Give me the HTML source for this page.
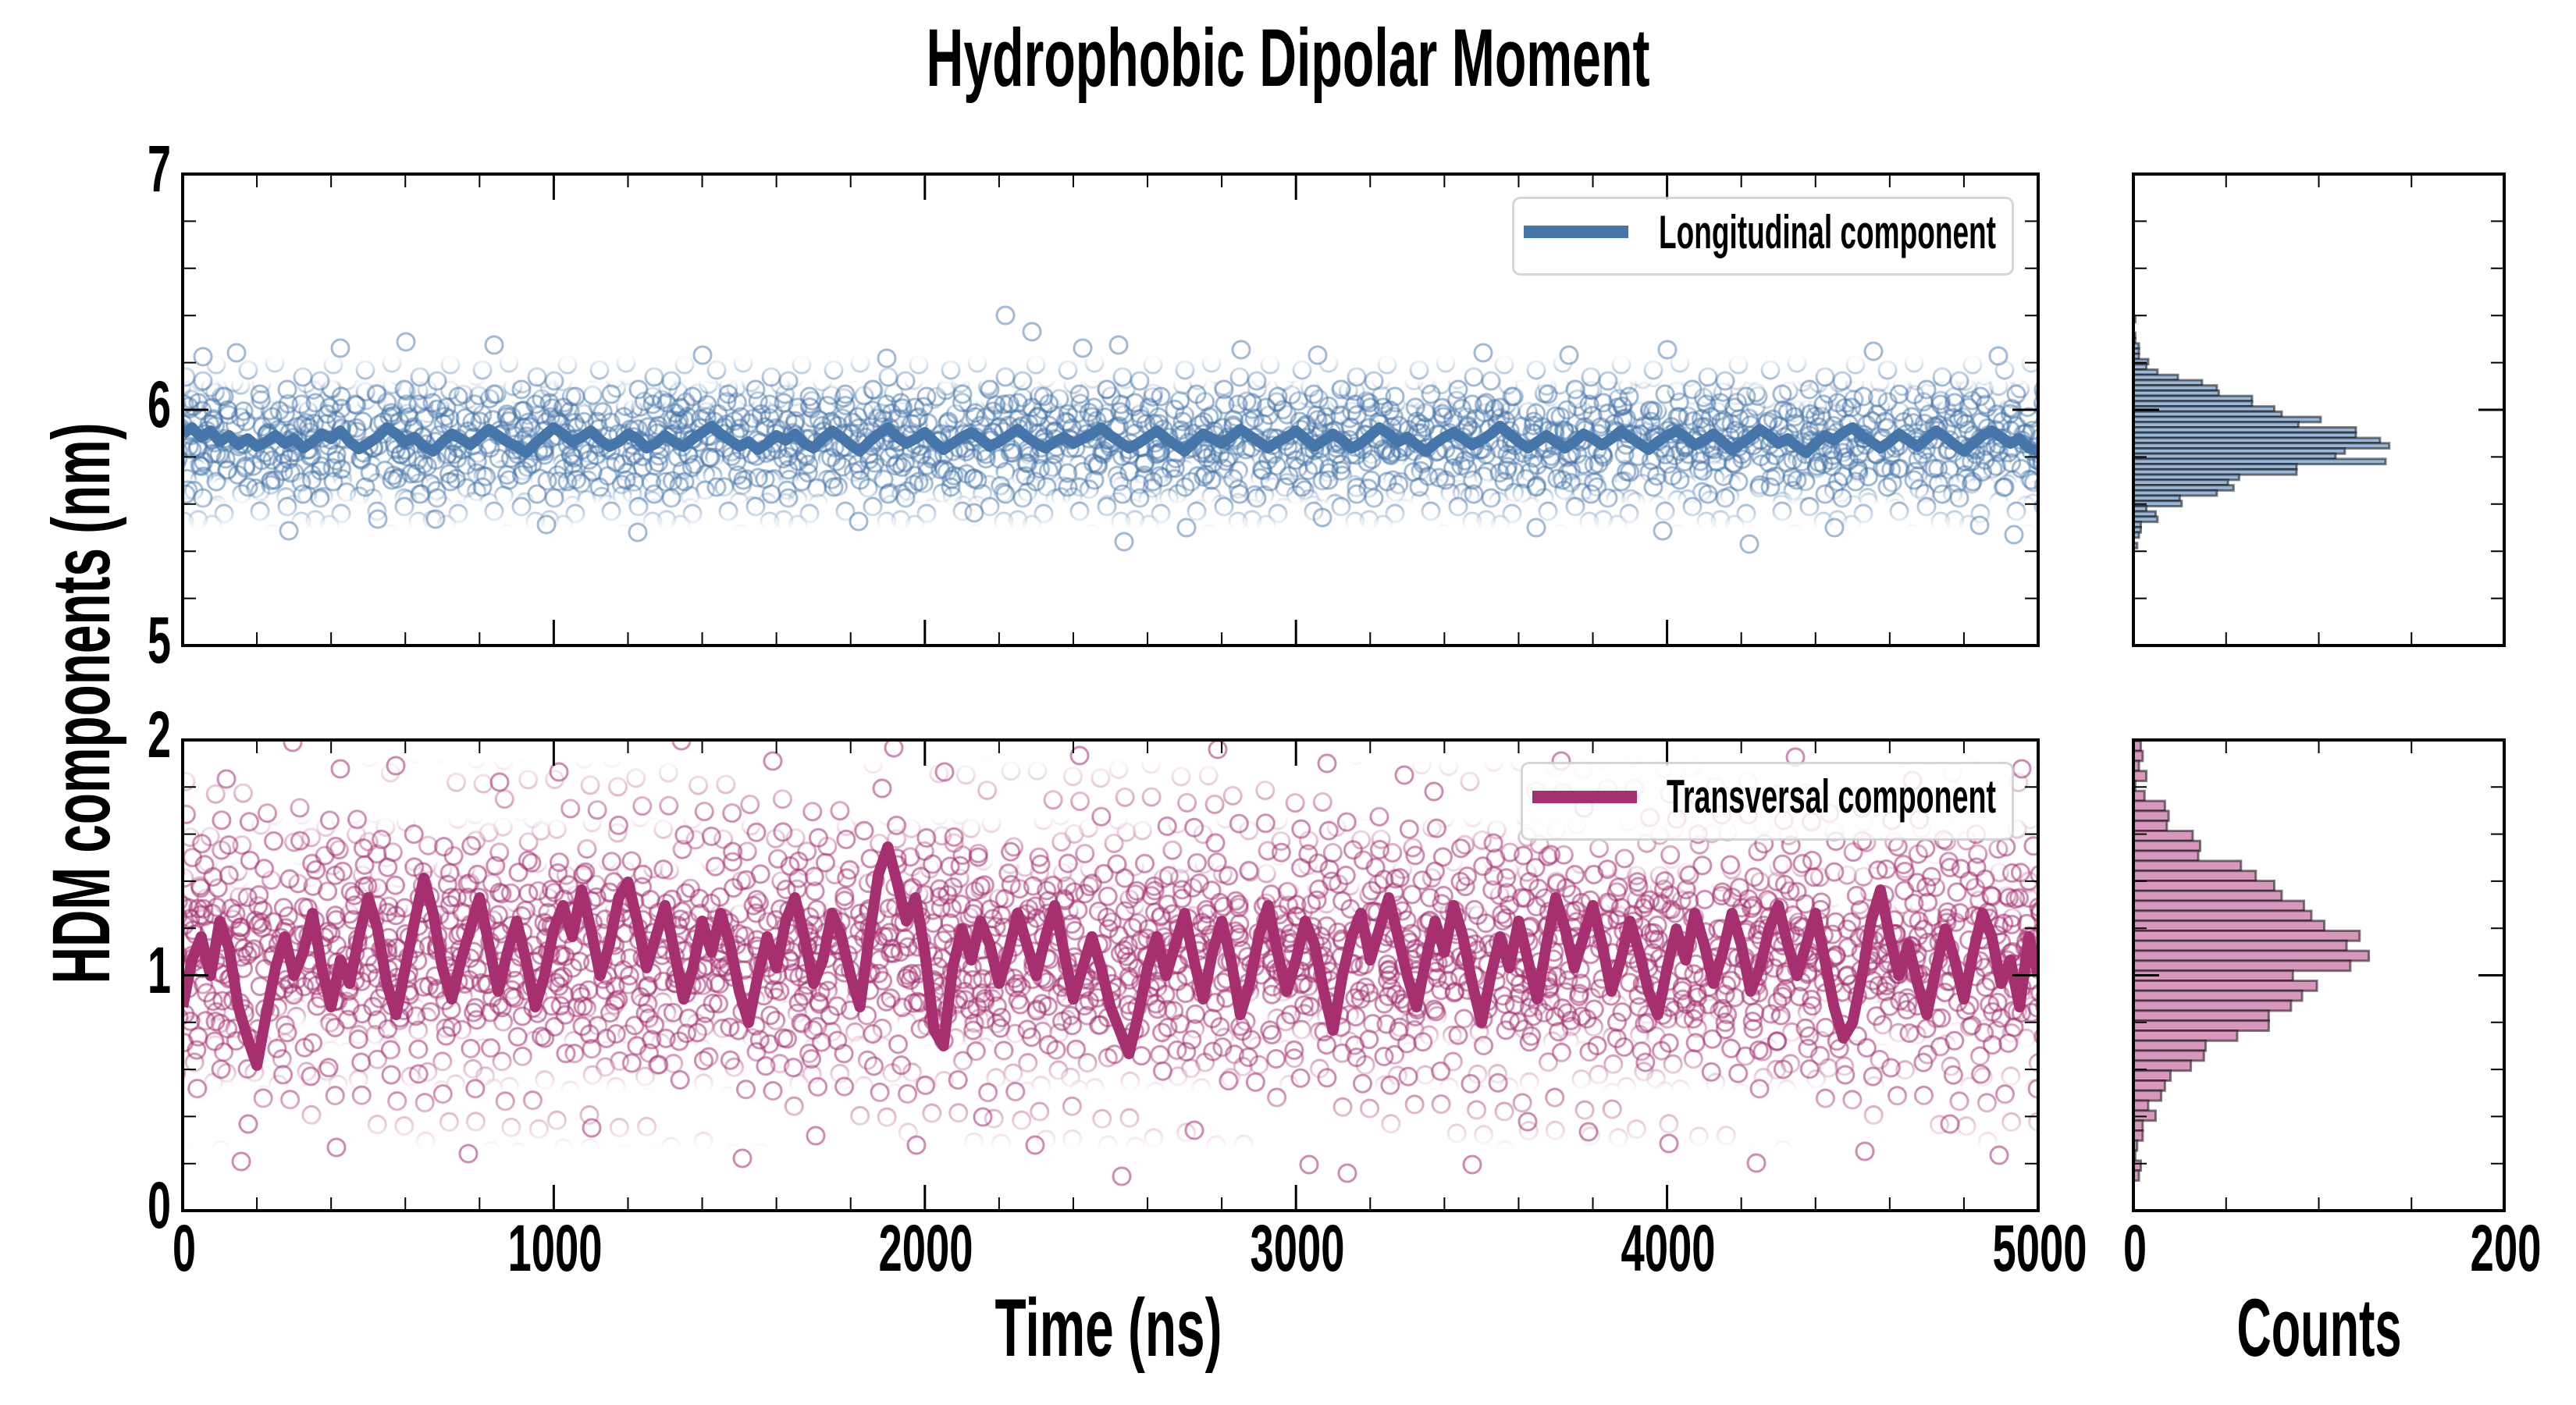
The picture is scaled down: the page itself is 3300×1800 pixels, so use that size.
<!DOCTYPE html>
<html>
<head>
<meta charset="utf-8">
<style>
html,body{margin:0;padding:0;background:#fff;}
svg{display:block;}
</style>
</head>
<body>
<svg width="3300" height="1800" viewBox="0 0 3300 1800" xmlns="http://www.w3.org/2000/svg" font-family="'Liberation Sans', Arial, sans-serif" font-weight="bold">
<defs>
<clipPath id="c1"><rect x="234" y="223" width="2377" height="604"/></clipPath>
<clipPath id="c2"><rect x="234" y="948" width="2377" height="603"/></clipPath>
<clipPath id="c3"><rect x="2733" y="223" width="475" height="604"/></clipPath>
<clipPath id="c4"><rect x="2733" y="948" width="475" height="603"/></clipPath>
<linearGradient id="fade" x1="0" y1="0" x2="0" y2="1">
<stop offset="0" stop-color="#fff" stop-opacity="0"/>
<stop offset="0.15" stop-color="#fff" stop-opacity="1"/>
<stop offset="0.85" stop-color="#fff" stop-opacity="1"/>
<stop offset="1" stop-color="#fff" stop-opacity="0"/>
</linearGradient>
<mask id="m" maskContentUnits="objectBoundingBox"><rect x="0" y="0" width="1" height="1" fill="url(#fade)"/></mask>
<g id="ca"><circle cx="18" cy="24" r="11"/><circle cx="52" cy="15" r="11"/><circle cx="88" cy="33" r="11"/><circle cx="127" cy="17" r="11"/><circle cx="137" cy="58" r="11"/><circle cx="33" cy="55" r="11"/><circle cx="68" cy="49" r="11"/><circle cx="104" cy="66" r="11"/><circle cx="15" cy="90" r="11"/><circle cx="49" cy="84" r="11"/><circle cx="80" cy="97" r="11"/></g>
<g id="cb"><circle cx="118" cy="93" r="11"/><circle cx="28" cy="124" r="11"/><circle cx="63" cy="132" r="11"/><circle cx="96" cy="126" r="11"/><circle cx="131" cy="132" r="11"/><circle cx="110" cy="38" r="11"/><circle cx="42" cy="106" r="11"/><circle cx="86" cy="68" r="11"/><circle cx="137" cy="112" r="11"/><circle cx="70" cy="114" r="11"/><circle cx="122" cy="72" r="11"/></g>
<pattern id="pb0" patternUnits="userSpaceOnUse" width="150" height="150"><g fill="none" stroke="#4676a9" stroke-opacity="0.5" stroke-width="3"><use href="#ca"/><use href="#cb"/></g></pattern>
<pattern id="pb1" patternUnits="userSpaceOnUse" width="150" height="150" patternTransform="rotate(23) translate(40,17)"><g fill="none" stroke="#4676a9" stroke-opacity="0.5" stroke-width="3"><use href="#ca"/><use href="#cb"/></g></pattern>
<pattern id="pb2" patternUnits="userSpaceOnUse" width="150" height="150" patternTransform="rotate(47) translate(11,73)"><g fill="none" stroke="#4676a9" stroke-opacity="0.5" stroke-width="3"><use href="#ca"/><use href="#cb"/></g></pattern>
<pattern id="pb3" patternUnits="userSpaceOnUse" width="150" height="150" patternTransform="rotate(71) translate(90,30)"><g fill="none" stroke="#4676a9" stroke-opacity="0.5" stroke-width="3"><use href="#ca"/><use href="#cb"/></g></pattern>
<pattern id="pb4" patternUnits="userSpaceOnUse" width="150" height="150" patternTransform="rotate(97) translate(25,55)"><g fill="none" stroke="#4676a9" stroke-opacity="0.5" stroke-width="3"><use href="#ca"/><use href="#cb"/></g></pattern>
<pattern id="pb5" patternUnits="userSpaceOnUse" width="150" height="150" patternTransform="rotate(149) translate(7,38)"><g fill="none" stroke="#4676a9" stroke-opacity="0.5" stroke-width="3"><use href="#ca"/><use href="#cb"/></g></pattern>
<pattern id="pps" patternUnits="userSpaceOnUse" width="150" height="150" patternTransform="rotate(13) translate(30,5)"><g fill="none" stroke="#a62f6f" stroke-opacity="0.55" stroke-width="3"><use href="#ca"/></g></pattern>
<pattern id="pp0" patternUnits="userSpaceOnUse" width="150" height="150" patternTransform="rotate(37) translate(22,61)"><g fill="none" stroke="#a62f6f" stroke-opacity="0.55" stroke-width="3"><use href="#ca"/><use href="#cb"/></g></pattern>
<pattern id="pp1" patternUnits="userSpaceOnUse" width="150" height="150" patternTransform="rotate(79) translate(71,9)"><g fill="none" stroke="#a62f6f" stroke-opacity="0.55" stroke-width="3"><use href="#ca"/><use href="#cb"/></g></pattern>
<pattern id="pp2" patternUnits="userSpaceOnUse" width="150" height="150" patternTransform="rotate(131) translate(44,118)"><g fill="none" stroke="#a62f6f" stroke-opacity="0.55" stroke-width="3"><use href="#ca"/><use href="#cb"/></g></pattern>
<pattern id="pp3" patternUnits="userSpaceOnUse" width="150" height="150" patternTransform="rotate(161) translate(97,52)"><g fill="none" stroke="#a62f6f" stroke-opacity="0.55" stroke-width="3"><use href="#cb"/></g></pattern>
</defs>

<rect x="0" y="0" width="3300" height="1800" fill="#fff"/>

<g clip-path="url(#c1)">
<rect x="234" y="455" width="2377" height="222" fill="url(#pb0)" mask="url(#m)"/>
<rect x="234" y="486" width="2377" height="160" fill="url(#pb1)" mask="url(#m)"/>
<rect x="234" y="486" width="2377" height="160" fill="url(#pb2)" mask="url(#m)"/>
<rect x="234" y="512" width="2377" height="108" fill="url(#pb3)" mask="url(#m)"/>
<rect x="234" y="512" width="2377" height="108" fill="url(#pb4)" mask="url(#m)"/>
<rect x="234" y="536" width="2377" height="60" fill="url(#pb5)" mask="url(#m)"/>
<g fill="none" stroke="#4676a9" stroke-opacity="0.5" stroke-width="3">
<circle cx="520" cy="438" r="11"/><circle cx="633" cy="442" r="11"/><circle cx="436" cy="446" r="11"/><circle cx="303" cy="452" r="11"/><circle cx="1288" cy="404" r="11"/><circle cx="1322" cy="425" r="11"/><circle cx="1387" cy="446" r="11"/><circle cx="1433" cy="442" r="11"/><circle cx="2136" cy="448" r="11"/><circle cx="1688" cy="455" r="11"/><circle cx="1136" cy="459" r="11"/><circle cx="484" cy="665" r="11"/><circle cx="558" cy="665" r="11"/><circle cx="817" cy="682" r="11"/><circle cx="1440" cy="694" r="11"/><circle cx="1694" cy="663" r="11"/><circle cx="2130" cy="680" r="11"/><circle cx="2241" cy="697" r="11"/><circle cx="1968" cy="676" r="11"/><circle cx="2536" cy="673" r="11"/><circle cx="1520" cy="676" r="11"/><circle cx="1248" cy="657" r="11"/><circle cx="900" cy="455" r="11"/><circle cx="1900" cy="452" r="11"/><circle cx="2400" cy="450" r="11"/><circle cx="700" cy="672" r="11"/><circle cx="1100" cy="668" r="11"/><circle cx="2350" cy="676" r="11"/><circle cx="2560" cy="456" r="11"/><circle cx="260" cy="457" r="11"/><circle cx="1590" cy="448" r="11"/><circle cx="2010" cy="455" r="11"/><circle cx="2580" cy="685" r="11"/><circle cx="370" cy="680" r="11"/>
</g>
<polyline fill="none" stroke="#4676a9" stroke-width="14" stroke-linejoin="round" vector-effect="non-scaling-stroke" transform="translate(234,0) scale(11.885,1)" points="0,556 1,548 2,560 3,552 4,566 5,558 6,570 7,562 8,572 9,566 10,558 11,568 12,562 13,574 14,566 15,556 16,562 17,552 18,566 19,575 20,568 21,560 22,548 23,556 24,566 25,560 26,572 27,578 28,566 29,556 30,562 31,570 32,560 33,550 34,558 35,566 36,572 37,580 38,568 39,558 40,548 41,556 42,566 43,560 44,552 45,564 46,572 47,566 48,556 49,562 50,574 51,568 52,558 53,566 54,572 55,562 56,554 57,546 58,556 59,564 60,572 61,566 62,576 63,568 64,558 65,564 66,556 67,568 68,574 69,562 70,552 71,560 72,570 73,578 74,566 75,556 76,548 77,560 78,568 79,562 80,554 81,566 82,576 83,568 84,560 85,554 86,562 87,572 88,566 89,558 90,550 91,560 92,568 93,574 94,566 95,560 96,568 97,562 98,556 99,548 100,558 101,566 102,574 103,568 104,560 105,552 106,562 107,570 108,578 109,566 110,556 111,562 112,568 113,560 114,550 115,558 116,566 117,574 118,566 119,560 120,552 121,562 122,572 123,564 124,556 125,564 126,574 127,568 128,558 129,548 130,556 131,566 132,560 133,570 134,578 135,568 136,560 137,554 138,562 139,570 140,564 141,556 142,546 143,556 144,566 145,574 146,566 147,558 148,566 149,574 150,566 151,556 152,562 153,570 154,562 155,552 156,560 157,568 158,576 159,566 160,558 161,552 162,560 163,570 164,564 165,556 166,566 167,576 168,568 169,560 170,550 171,558 172,568 173,562 174,572 175,580 176,568 177,558 178,564 179,554 180,548 181,558 182,566 183,574 184,566 185,556 186,564 187,572 188,562 189,552 190,560 191,570 192,578 193,568 194,558 195,552 196,560 197,568 198,562 199,574 200,578"/>
</g>

<g clip-path="url(#c2)">
<rect x="234" y="972" width="2377" height="500" fill="url(#pps)" mask="url(#m)"/>
<rect x="234" y="1046" width="2377" height="352" fill="url(#pp0)" mask="url(#m)"/>
<rect x="234" y="1102" width="2377" height="240" fill="url(#pp1)" mask="url(#m)"/>
<rect x="234" y="1157" width="2377" height="130" fill="url(#pp2)" mask="url(#m)"/>
<rect x="234" y="1130" width="2377" height="184" fill="url(#pp3)" mask="url(#m)"/>
<g fill="none" stroke="#a62f6f" stroke-opacity="0.55" stroke-width="3">
<circle cx="375" cy="951" r="11"/><circle cx="507" cy="981" r="11"/><circle cx="436" cy="985" r="11"/><circle cx="873" cy="949" r="11"/><circle cx="1145" cy="958" r="11"/><circle cx="1210" cy="989" r="11"/><circle cx="1383" cy="968" r="11"/><circle cx="1799" cy="993" r="11"/><circle cx="1837" cy="1014" r="11"/><circle cx="716" cy="989" r="11"/><circle cx="2000" cy="975" r="11"/><circle cx="2300" cy="970" r="11"/><circle cx="2590" cy="985" r="11"/><circle cx="1560" cy="960" r="11"/><circle cx="990" cy="975" r="11"/><circle cx="290" cy="998" r="11"/><circle cx="1130" cy="1010" r="11"/><circle cx="2450" cy="1000" r="11"/><circle cx="640" cy="1002" r="11"/><circle cx="1700" cy="978" r="11"/>
<circle cx="309" cy="1488" r="11"/><circle cx="318" cy="1440" r="11"/><circle cx="431" cy="1470" r="11"/><circle cx="951" cy="1484" r="11"/><circle cx="1174" cy="1467" r="11"/><circle cx="1326" cy="1467" r="11"/><circle cx="1437" cy="1507" r="11"/><circle cx="1677" cy="1492" r="11"/><circle cx="1726" cy="1503" r="11"/><circle cx="1886" cy="1492" r="11"/><circle cx="2138" cy="1465" r="11"/><circle cx="2389" cy="1475" r="11"/><circle cx="2561" cy="1480" r="11"/><circle cx="1259" cy="1431" r="11"/><circle cx="1957" cy="1437" r="11"/><circle cx="2498" cy="1440" r="11"/><circle cx="758" cy="1445" r="11"/><circle cx="2035" cy="1450" r="11"/><circle cx="600" cy="1478" r="11"/><circle cx="2250" cy="1490" r="11"/><circle cx="1045" cy="1455" r="11"/><circle cx="1530" cy="1448" r="11"/>
</g>
<polyline fill="none" stroke="#a62f6f" stroke-width="14" stroke-linejoin="round" vector-effect="non-scaling-stroke" transform="translate(234,0) scale(11.885,1)" points="0,1290 1,1230 2,1200 3,1250 4,1180 5,1215 6,1290 7,1330 8,1365 9,1300 10,1240 11,1200 12,1250 13,1220 14,1170 15,1240 16,1290 17,1230 18,1260 19,1200 20,1150 21,1190 22,1260 23,1300 24,1240 25,1180 26,1125 27,1170 28,1240 29,1280 30,1230 31,1190 32,1150 33,1210 34,1270 35,1220 36,1180 37,1230 38,1290 39,1250 40,1190 41,1160 42,1200 43,1140 44,1190 45,1250 46,1210 47,1150 48,1130 49,1180 50,1240 51,1200 52,1160 53,1220 54,1280 55,1240 56,1180 57,1220 58,1170 59,1210 60,1270 61,1310 62,1250 63,1200 64,1240 65,1180 66,1150 67,1200 68,1260 69,1230 70,1170 71,1200 72,1250 73,1290 74,1200 75,1120 76,1085 77,1130 78,1180 79,1150 80,1220 81,1320 82,1340 83,1240 84,1190 85,1230 86,1180 87,1210 88,1260 89,1220 90,1170 91,1210 92,1250 93,1200 94,1160 95,1220 96,1280 97,1240 98,1200 99,1240 100,1290 101,1320 102,1350 103,1300 104,1240 105,1200 106,1250 107,1210 108,1170 109,1230 110,1280 111,1220 112,1180 113,1230 114,1300 115,1260 116,1200 117,1160 118,1220 119,1270 120,1230 121,1180 122,1210 123,1270 124,1320 125,1250 126,1200 127,1170 128,1230 129,1190 130,1150 131,1200 132,1250 133,1290 134,1230 135,1180 136,1220 137,1160 138,1200 139,1260 140,1310 141,1250 142,1200 143,1240 144,1180 145,1230 146,1280 147,1210 148,1150 149,1190 150,1240 151,1200 152,1160 153,1210 154,1270 155,1230 156,1180 157,1220 158,1270 159,1300 160,1240 161,1190 162,1230 163,1170 164,1210 165,1260 166,1220 167,1170 168,1210 169,1270 170,1240 171,1190 172,1160 173,1210 174,1250 175,1210 176,1170 177,1230 178,1290 179,1330 180,1310 181,1250 182,1180 183,1140 184,1200 185,1250 186,1210 187,1260 188,1300 189,1240 190,1190 191,1230 192,1280 193,1220 194,1170 195,1200 196,1260 197,1230 198,1290 199,1200 200,1250"/>
</g>

<g clip-path="url(#c3)" fill="#9ab7d7" stroke="#000" stroke-opacity="0.5" stroke-width="3">
<rect x="2733" y="406.2" width="2.4" height="6.73"/><rect x="2733" y="426.4" width="2.4" height="6.73"/><rect x="2733" y="433.1" width="2.4" height="6.73"/><rect x="2733" y="439.9" width="7.1" height="6.73"/><rect x="2733" y="446.6" width="7.1" height="6.73"/><rect x="2733" y="453.3" width="7.1" height="6.73"/><rect x="2733" y="460.0" width="19" height="6.73"/><rect x="2733" y="466.8" width="16.6" height="6.73"/><rect x="2733" y="473.5" width="30.9" height="6.73"/><rect x="2733" y="480.2" width="57" height="6.73"/><rect x="2733" y="487.0" width="87.9" height="6.73"/><rect x="2733" y="493.7" width="106.9" height="6.73"/><rect x="2733" y="500.4" width="109.3" height="6.73"/><rect x="2733" y="507.2" width="152" height="6.73"/><rect x="2733" y="513.9" width="152" height="6.73"/><rect x="2733" y="520.6" width="180.5" height="6.73"/><rect x="2733" y="527.3" width="190" height="6.73"/><rect x="2733" y="534.1" width="239.9" height="6.73"/><rect x="2733" y="540.8" width="211.4" height="6.73"/><rect x="2733" y="547.5" width="285" height="6.73"/><rect x="2733" y="554.3" width="285" height="6.73"/><rect x="2733" y="561.0" width="315.9" height="6.73"/><rect x="2733" y="567.7" width="327.8" height="6.73"/><rect x="2733" y="574.5" width="270.8" height="6.73"/><rect x="2733" y="581.2" width="258.9" height="6.73"/><rect x="2733" y="587.9" width="323" height="6.73"/><rect x="2733" y="594.6" width="209" height="6.73"/><rect x="2733" y="601.4" width="209" height="6.73"/><rect x="2733" y="608.1" width="135.4" height="6.73"/><rect x="2733" y="614.8" width="121.1" height="6.73"/><rect x="2733" y="621.6" width="128.3" height="6.73"/><rect x="2733" y="628.3" width="106.9" height="6.73"/><rect x="2733" y="635.0" width="59.4" height="6.73"/><rect x="2733" y="641.8" width="61.8" height="6.73"/><rect x="2733" y="648.5" width="16.6" height="6.73"/><rect x="2733" y="655.2" width="28.5" height="6.73"/><rect x="2733" y="661.9" width="30.9" height="6.73"/><rect x="2733" y="668.7" width="9.5" height="6.73"/><rect x="2733" y="675.4" width="9.5" height="6.73"/><rect x="2733" y="682.1" width="7.1" height="6.73"/><rect x="2733" y="695.6" width="4.8" height="6.73"/>
</g>

<g clip-path="url(#c4)" fill="#d898bd" stroke="#000" stroke-opacity="0.5" stroke-width="3">
<rect x="2733" y="949.3" width="9.5" height="12.8"/><rect x="2733" y="962.1" width="11.9" height="12.8"/><rect x="2733" y="974.9" width="7.1" height="12.8"/><rect x="2733" y="987.7" width="16.6" height="12.8"/><rect x="2733" y="1000.5" width="2.4" height="12.8"/><rect x="2733" y="1013.3" width="14.3" height="12.8"/><rect x="2733" y="1026.1" width="40.4" height="12.8"/><rect x="2733" y="1038.9" width="45.1" height="12.8"/><rect x="2733" y="1051.7" width="42.8" height="12.8"/><rect x="2733" y="1064.5" width="76" height="12.8"/><rect x="2733" y="1077.3" width="85.5" height="12.8"/><rect x="2733" y="1090.1" width="83.1" height="12.8"/><rect x="2733" y="1102.9" width="137.8" height="12.8"/><rect x="2733" y="1115.7" width="156.8" height="12.8"/><rect x="2733" y="1128.5" width="180.5" height="12.8"/><rect x="2733" y="1141.3" width="190" height="12.8"/><rect x="2733" y="1154.1" width="218.5" height="12.8"/><rect x="2733" y="1166.9" width="228" height="12.8"/><rect x="2733" y="1179.7" width="244.6" height="12.8"/><rect x="2733" y="1192.5" width="289.8" height="12.8"/><rect x="2733" y="1205.3" width="273.1" height="12.8"/><rect x="2733" y="1218.1" width="301.6" height="12.8"/><rect x="2733" y="1230.9" width="277.9" height="12.8"/><rect x="2733" y="1243.7" width="204.3" height="12.8"/><rect x="2733" y="1256.5" width="235.1" height="12.8"/><rect x="2733" y="1269.3" width="216.1" height="12.8"/><rect x="2733" y="1282.1" width="201.9" height="12.8"/><rect x="2733" y="1294.9" width="173.4" height="12.8"/><rect x="2733" y="1307.7" width="173.4" height="12.8"/><rect x="2733" y="1320.5" width="133" height="12.8"/><rect x="2733" y="1333.3" width="92.6" height="12.8"/><rect x="2733" y="1346.1" width="90.3" height="12.8"/><rect x="2733" y="1358.9" width="73.6" height="12.8"/><rect x="2733" y="1371.7" width="47.5" height="12.8"/><rect x="2733" y="1384.5" width="40.4" height="12.8"/><rect x="2733" y="1397.3" width="35.6" height="12.8"/><rect x="2733" y="1410.1" width="19" height="12.8"/><rect x="2733" y="1422.9" width="28.5" height="12.8"/><rect x="2733" y="1435.7" width="11.9" height="12.8"/><rect x="2733" y="1448.5" width="11.9" height="12.8"/><rect x="2733" y="1461.3" width="4.8" height="12.8"/><rect x="2733" y="1474.1" width="2.4" height="12.8"/><rect x="2733" y="1486.9" width="9.5" height="12.8"/><rect x="2733" y="1499.7" width="7.1" height="12.8"/>
</g>

<g stroke="#000" fill="none">
<line x1="233" y1="231.5" x2="2613" y2="231.5" stroke-width="17" stroke-dasharray="2 93.08"/>
<line x1="233" y1="818.5" x2="2613" y2="818.5" stroke-width="17" stroke-dasharray="2 93.08"/>
<line x1="232.5" y1="239.5" x2="2613" y2="239.5" stroke-width="33" stroke-dasharray="3 472.4"/>
<line x1="232.5" y1="810.5" x2="2613" y2="810.5" stroke-width="33" stroke-dasharray="3 472.4"/>
<line x1="242.5" y1="222" x2="242.5" y2="829" stroke-width="17" stroke-dasharray="2 58.4"/>
<line x1="2602.5" y1="222" x2="2602.5" y2="829" stroke-width="17" stroke-dasharray="2 58.4"/>
<line x1="250.5" y1="221.5" x2="250.5" y2="829" stroke-width="33" stroke-dasharray="3 299"/>
<line x1="2594.5" y1="221.5" x2="2594.5" y2="829" stroke-width="33" stroke-dasharray="3 299"/>
<line x1="233" y1="956.5" x2="2613" y2="956.5" stroke-width="17" stroke-dasharray="2 93.08"/>
<line x1="233" y1="1542.5" x2="2613" y2="1542.5" stroke-width="17" stroke-dasharray="2 93.08"/>
<line x1="232.5" y1="964.5" x2="2613" y2="964.5" stroke-width="33" stroke-dasharray="3 472.4"/>
<line x1="232.5" y1="1534.5" x2="2613" y2="1534.5" stroke-width="33" stroke-dasharray="3 472.4"/>
<line x1="242.5" y1="947" x2="242.5" y2="1553" stroke-width="17" stroke-dasharray="2 58.3"/>
<line x1="2602.5" y1="947" x2="2602.5" y2="1553" stroke-width="17" stroke-dasharray="2 58.3"/>
<line x1="250.5" y1="946.5" x2="250.5" y2="1553" stroke-width="33" stroke-dasharray="3 298.5"/>
<line x1="2594.5" y1="946.5" x2="2594.5" y2="1553" stroke-width="33" stroke-dasharray="3 298.5"/>
<line x1="2732" y1="231.5" x2="3210" y2="231.5" stroke-width="17" stroke-dasharray="2 116.75"/>
<line x1="2732" y1="818.5" x2="3210" y2="818.5" stroke-width="17" stroke-dasharray="2 116.75"/>
<line x1="2741.5" y1="222" x2="2741.5" y2="829" stroke-width="17" stroke-dasharray="2 58.4"/>
<line x1="3199.5" y1="222" x2="3199.5" y2="829" stroke-width="17" stroke-dasharray="2 58.4"/>
<line x1="2749.5" y1="221.5" x2="2749.5" y2="829" stroke-width="33" stroke-dasharray="3 299"/>
<line x1="3191.5" y1="221.5" x2="3191.5" y2="829" stroke-width="33" stroke-dasharray="3 299"/>
<line x1="2732" y1="956.5" x2="3210" y2="956.5" stroke-width="17" stroke-dasharray="2 116.75"/>
<line x1="2732" y1="1542.5" x2="3210" y2="1542.5" stroke-width="17" stroke-dasharray="2 116.75"/>
<line x1="2741.5" y1="947" x2="2741.5" y2="1553" stroke-width="17" stroke-dasharray="2 58.3"/>
<line x1="3199.5" y1="947" x2="3199.5" y2="1553" stroke-width="17" stroke-dasharray="2 58.3"/>
<line x1="2749.5" y1="946.5" x2="2749.5" y2="1553" stroke-width="33" stroke-dasharray="3 298.5"/>
<line x1="3191.5" y1="946.5" x2="3191.5" y2="1553" stroke-width="33" stroke-dasharray="3 298.5"/>
</g>

<g fill="none" stroke="#000" stroke-width="4">
<rect x="234" y="223" width="2377" height="604"/>
<rect x="234" y="948" width="2377" height="603"/>
<rect x="2733" y="223" width="475" height="604"/>
<rect x="2733" y="948" width="475" height="603"/>
</g>

<rect x="1938.5" y="253.5" width="640" height="98" rx="9" ry="9" fill="#fff" fill-opacity="0.8" stroke="#cccccc" stroke-opacity="0.8" stroke-width="3"/>
<line x1="1952" y1="297" x2="2086" y2="297" stroke="#4676a9" stroke-width="16"/>
<text x="2125" y="318" font-size="60" textLength="432" lengthAdjust="spacingAndGlyphs">Longitudinal component</text>
<rect x="1949.5" y="977.5" width="629" height="98" rx="9" ry="9" fill="#fff" fill-opacity="0.8" stroke="#cccccc" stroke-opacity="0.8" stroke-width="3"/>
<line x1="1963" y1="1021" x2="2097" y2="1021" stroke="#a62f6f" stroke-width="16"/>
<text x="2135" y="1041" font-size="60" textLength="422" lengthAdjust="spacingAndGlyphs">Transversal component</text>

<text x="1650" y="110" font-size="105" text-anchor="middle" textLength="927" lengthAdjust="spacingAndGlyphs">Hydrophobic Dipolar Moment</text>
<text transform="translate(140,901) rotate(-90)" font-size="105" text-anchor="middle" textLength="719" lengthAdjust="spacingAndGlyphs">HDM components (nm)</text>
<text x="1420" y="1737" font-size="105" text-anchor="middle" textLength="291" lengthAdjust="spacingAndGlyphs">Time (ns)</text>
<text x="2971" y="1737" font-size="105" text-anchor="middle" textLength="211" lengthAdjust="spacingAndGlyphs">Counts</text>

<g font-size="84" text-anchor="end">
<text x="219" y="245" textLength="30" lengthAdjust="spacingAndGlyphs">7</text>
<text x="219" y="547" textLength="30" lengthAdjust="spacingAndGlyphs">6</text>
<text x="219" y="849" textLength="30" lengthAdjust="spacingAndGlyphs">5</text>
<text x="219" y="970" textLength="30" lengthAdjust="spacingAndGlyphs">2</text>
<text x="219" y="1272" textLength="30" lengthAdjust="spacingAndGlyphs">1</text>
<text x="219" y="1573" textLength="30" lengthAdjust="spacingAndGlyphs">0</text>
</g>
<g font-size="84" text-anchor="middle">
<text x="236" y="1628" textLength="30" lengthAdjust="spacingAndGlyphs">0</text>
<text x="711" y="1628" textLength="121" lengthAdjust="spacingAndGlyphs">1000</text>
<text x="1186" y="1628" textLength="121" lengthAdjust="spacingAndGlyphs">2000</text>
<text x="1662" y="1628" textLength="121" lengthAdjust="spacingAndGlyphs">3000</text>
<text x="2137" y="1628" textLength="121" lengthAdjust="spacingAndGlyphs">4000</text>
<text x="2613" y="1628" textLength="121" lengthAdjust="spacingAndGlyphs">5000</text>
<text x="2735" y="1628" textLength="30" lengthAdjust="spacingAndGlyphs">0</text>
<text x="3210" y="1628" textLength="91" lengthAdjust="spacingAndGlyphs">200</text>
</g>
</svg>
</body>
</html>
